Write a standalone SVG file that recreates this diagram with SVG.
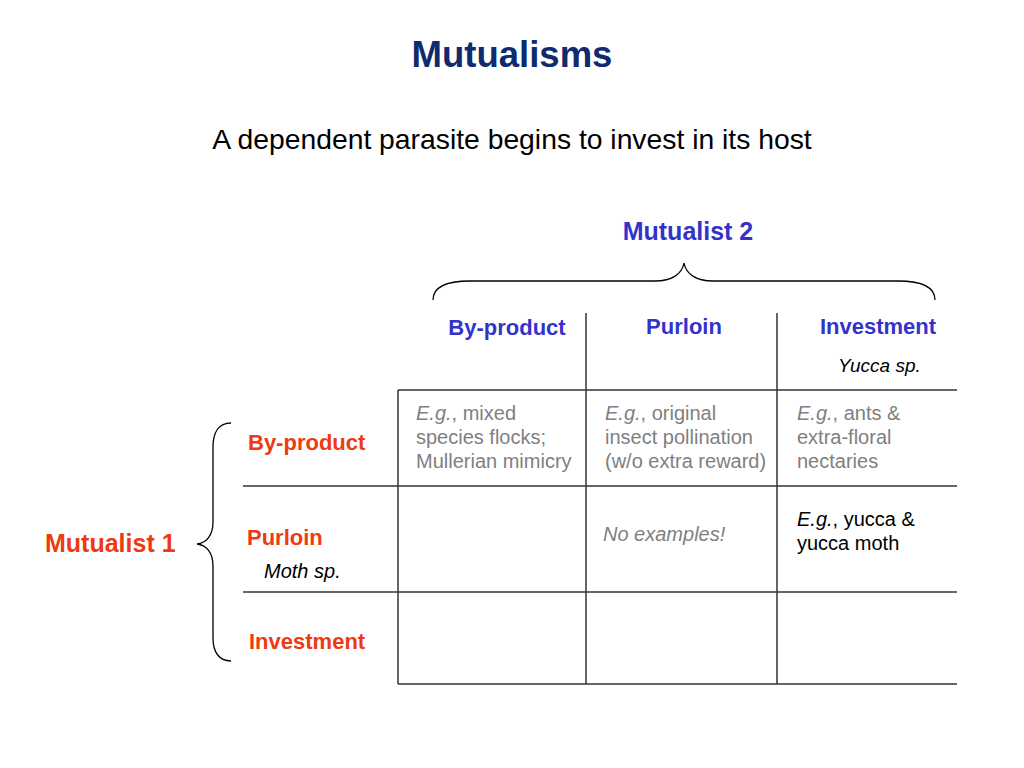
<svg xmlns="http://www.w3.org/2000/svg" width="1024" height="768" viewBox="0 0 1024 768">
<style>
text{font-family:"Liberation Sans",Arial,sans-serif}
.title{font-size:36.5px;font-weight:bold;fill:#0f2a6e}
.sub{font-size:28.3px;fill:#000}
.blue{font-size:22px;font-weight:bold;fill:#3333cc}
.red{font-size:22px;font-weight:bold;fill:#ee3a12}
.big{font-size:25px}
.cell{font-size:20px;fill:#808080}
.blk{font-size:20px;fill:#000}
.it{font-style:italic}
.grid{stroke:#333;stroke-width:1.5;fill:none}
.brace{stroke:#000;stroke-width:1.3;fill:none}
</style>
<rect width="1024" height="768" fill="#fff"/>
<text class="title" x="512" y="67" text-anchor="middle">Mutualisms</text>
<text class="sub" x="512" y="149" text-anchor="middle">A dependent parasite begins to invest in its host</text>

<g id="mutualist2">
<text class="blue big" x="688" y="240" text-anchor="middle">Mutualist 2</text>
<path class="brace" d="M433,300 C433,288 445,281 470,281 L655,281 C672,281 682,274 684,263 C686,274 696,281 713,281 L898,281 C923,281 935,288 935,300"/>
</g>
<g id="mutualist1">
<text class="red big" x="45" y="552">Mutualist 1</text>
<path class="brace" d="M231,423 C219,423 213,432 213,447 L213,522 C213,536 206,543 197,544 C206,545 213,552 213,566 L213,638 C213,652 219,661 231,661"/>
</g>

<g id="grid">
<line class="grid" x1="586" y1="313" x2="586" y2="684"/>
<line class="grid" x1="777" y1="313" x2="777" y2="684"/>
<line class="grid" x1="398" y1="390" x2="398" y2="684"/>
<line class="grid" x1="398" y1="390" x2="957" y2="390"/>
<line class="grid" x1="243" y1="486" x2="957" y2="486"/>
<line class="grid" x1="243" y1="592" x2="957" y2="592"/>
<line class="grid" x1="398" y1="684" x2="957" y2="684"/>
</g>

<g id="col-headers">
<text class="blue" x="507" y="335" text-anchor="middle">By-product</text>
<text class="blue" x="684" y="334" text-anchor="middle">Purloin</text>
<text class="blue" x="878" y="334" text-anchor="middle">Investment</text>
<text class="blk it" x="838" y="372" style="font-size:19px">Yucca sp.</text>
</g>

<g id="row-headers">
<text class="red" x="248" y="450">By-product</text>
<text class="red" x="247" y="545">Purloin</text>
<text class="blk it" x="264" y="578">Moth sp.</text>
<text class="red" x="249" y="649">Investment</text>
</g>

<g id="cell-bp-bp">
<text class="cell" x="416" y="420"><tspan class="it">E.g.</tspan>, mixed</text>
<text class="cell" x="416" y="444">species flocks;</text>
<text class="cell" x="416" y="468">Mullerian mimicry</text>
</g>
<g id="cell-bp-pu">
<text class="cell" x="605" y="420"><tspan class="it">E.g.</tspan>, original</text>
<text class="cell" x="605" y="444">insect pollination</text>
<text class="cell" x="605" y="468">(w/o extra reward)</text>
</g>
<g id="cell-bp-in">
<text class="cell" x="797" y="420"><tspan class="it">E.g.</tspan>, ants &amp;</text>
<text class="cell" x="797" y="444">extra-floral</text>
<text class="cell" x="797" y="468">nectaries</text>
</g>
<g id="cell-pu-pu">
<text class="cell it" x="603" y="541">No examples!</text>
</g>
<g id="cell-pu-in">
<text class="blk" x="797" y="526"><tspan class="it">E.g.</tspan>, yucca &amp;</text>
<text class="blk" x="797" y="550">yucca moth</text>
</g>
</svg>
